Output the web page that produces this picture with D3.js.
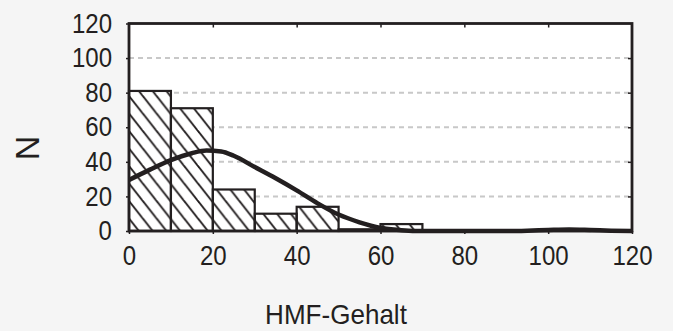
<!DOCTYPE html>
<html>
<head>
<meta charset="utf-8">
<script src="https://cdn.jsdelivr.net/npm/d3@7/dist/d3.min.js"></script>
<style>
    body { margin: 0; background: #f5f5f5; }
    svg { display: block; }
    text { font-family: "Liberation Sans", Arial, sans-serif; fill: #231f20; }
</style>
</head>
<body>
<svg id="chart"></svg>
<script>
// histogram bins (lower edge, 10 wide) and counts
var binStarts = [0, 10, 20, 30, 40, 50, 60, 70, 80, 90, 100, 110];
var binCounts = [81, 71, 24, 10, 14, 1, 4, 0, 0, 0, 1, 0];

// fitted curve
var curveX = [0, 5, 10, 15, 18.5, 22, 25, 30, 35, 40, 45, 50, 55, 60, 65, 70, 80, 90, 95, 100, 105, 110, 115, 120];
var curveY = [29.5, 35.5, 41, 45, 46.5, 46, 43.5, 37, 30.5, 23.5, 16, 9.5, 5, 1.8, 0.5, 0, 0, 0, 0.2, 0.6, 0.9, 0.6, 0.2, 0];

var xTicks = [0, 20, 40, 60, 80, 100, 120];
var yTicks = [0, 20, 40, 60, 80, 100, 120];

var width = 673, height = 331;
var plotLeft = 129, plotRight = 632, plotTop = 23.5, plotBottom = 231;

var svg = d3.select('#chart').attr('width', width).attr('height', height);

var x = d3.scaleLinear().domain([0, 120]).range([plotLeft, plotRight]);
var y = d3.scaleLinear().domain([0, 120]).range([plotBottom, plotTop]);

// squeeze text a little, the original font is narrow
function narrow(sel, k) {
    sel.each(function () {
        var w = this.getComputedTextLength();
        d3.select(this).attr('textLength', w * k).attr('lengthAdjust', 'spacingAndGlyphs');
    });
}

// hatch pattern
var pw = 13.8, ph = 17.5;
var pat = svg.append('defs').append('pattern')
    .attr('id', 'hatch')
    .attr('patternUnits', 'userSpaceOnUse')
    .attr('x', plotLeft).attr('y', 96)
    .attr('width', pw).attr('height', ph);
[-1, 0, 1].forEach(function (k) {
    pat.append('line')
        .attr('x1', k * pw - pw).attr('y1', -ph)
        .attr('x2', k * pw + 2 * pw).attr('y2', 2 * ph)
        .attr('stroke', '#231f20').attr('stroke-width', 1.9);
});

// plot background
svg.append('rect')
    .attr('x', plotLeft).attr('y', plotTop)
    .attr('width', plotRight - plotLeft).attr('height', plotBottom - plotTop)
    .attr('fill', '#fff');

// dashed grid
svg.append('g').selectAll('line')
    .data(yTicks.filter(function (d) { return d > 0 && d < 120; }))
    .enter().append('line')
    .attr('x1', plotLeft).attr('x2', plotRight)
    .attr('y1', function (d) { return y(d); })
    .attr('y2', function (d) { return y(d); })
    .attr('stroke', '#c8c8c8')
    .attr('stroke-width', 2)
    .attr('stroke-dasharray', '5,4');

// bars
var bins = binStarts.map(function (s, i) { return { start: s, count: binCounts[i] }; })
    .filter(function (d) { return d.count > 0; });

var bars = svg.append('g');
bars.selectAll('rect.bg')
    .data(bins).enter().append('rect')
    .attr('class', 'bg')
    .attr('x', function (d) { return x(d.start); })
    .attr('y', function (d) { return y(d.count); })
    .attr('width', function (d) { return x(d.start + 10) - x(d.start); })
    .attr('height', function (d) { return y(0) - y(d.count); })
    .attr('fill', '#fff');
bars.selectAll('rect.fg')
    .data(bins).enter().append('rect')
    .attr('class', 'fg')
    .attr('x', function (d) { return x(d.start); })
    .attr('y', function (d) { return y(d.count); })
    .attr('width', function (d) { return x(d.start + 10) - x(d.start); })
    .attr('height', function (d) { return y(0) - y(d.count); })
    .attr('fill', 'url(#hatch)')
    .attr('stroke', '#231f20')
    .attr('stroke-width', 2.2);

// fitted curve
var line = d3.line()
    .x(function (d) { return x(d[0]); })
    .y(function (d) { return y(d[1]); })
    .curve(d3.curveMonotoneX);

svg.append('path')
    .datum(curveX.map(function (v, i) { return [v, curveY[i]]; }))
    .attr('d', line)
    .attr('fill', 'none')
    .attr('stroke', '#231f20')
    .attr('stroke-width', 4.5);

// frame
svg.append('rect')
    .attr('x', plotLeft).attr('y', plotTop)
    .attr('width', plotRight - plotLeft).attr('height', plotBottom - plotTop)
    .attr('fill', 'none')
    .attr('stroke', '#231f20')
    .attr('stroke-width', 2.8);

// axes
svg.append('g')
    .attr('transform', 'translate(' + plotLeft + ',0)')
    .call(d3.axisLeft(y).tickValues(yTicks).tickSize(3).tickPadding(14));
svg.append('g')
    .attr('transform', 'translate(0,' + plotBottom + ')')
    .call(d3.axisBottom(x).tickValues(xTicks).tickSize(3).tickPadding(12));
svg.append('g')
    .attr('transform', 'translate(0,' + plotTop + ')')
    .call(d3.axisBottom(x).tickValues(xTicks.slice(1, -1)).tickSize(4).tickFormat(''));
svg.append('g')
    .attr('transform', 'translate(' + plotRight + ',0)')
    .call(d3.axisLeft(y).tickValues(yTicks.slice(1, -1)).tickSize(4).tickFormat(''));

svg.selectAll('.domain').remove();
svg.selectAll('.tick line').attr('stroke', '#231f20').attr('stroke-width', 1.5);
svg.selectAll('.tick text')
    .attr('font-family', '"Liberation Sans", Arial, sans-serif')
    .attr('font-size', 27)
    .attr('fill', '#231f20')
    .call(narrow, 0.89);

// titles
svg.append('text')
    .attr('x', 336).attr('y', 324)
    .attr('text-anchor', 'middle')
    .attr('font-size', 28)
    .text('HMF-Gehalt')
    .call(narrow, 0.93);

svg.append('text')
    .attr('transform', 'translate(39,148) rotate(-90)')
    .attr('text-anchor', 'middle')
    .attr('font-size', 34)
    .text('N');
</script>
</body>
</html>
